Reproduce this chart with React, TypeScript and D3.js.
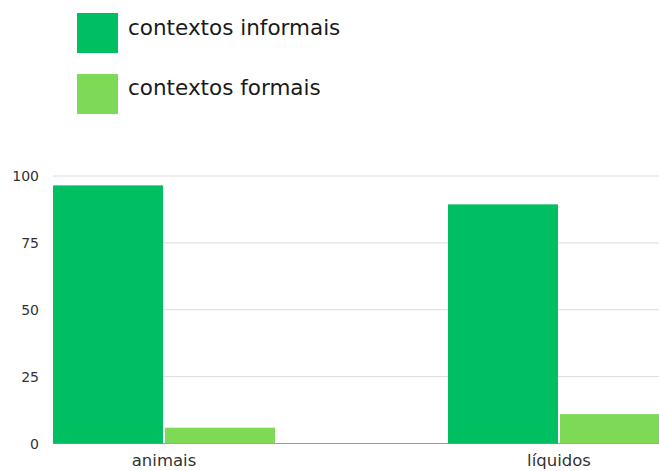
import React from "react";
import * as d3 from "d3";

const categories = ["animais", "líquidos"];
const seriesNames = ["contextos informais", "contextos formais"];
const informais = [96.5, 89.4];
const formais = [5.9, 11];
const yTicks = [0, 25, 50, 75, 100];
const colors = ["#00BF63", "#7ED957"];

const W = 659;
const H = 471;

export default function App() {
  const y = d3.scaleLinear().domain([0, 100]).range([443.5, 176]);
  const x = d3.scalePoint<string>().domain(categories).range([164, 559]);
  const inner = d3
    .scaleBand<string>()
    .domain(seriesNames)
    .range([-111, 111])
    .paddingInner(0.018);
  const values = [informais, formais];
  const font = "'DejaVu Sans', sans-serif";
  return (
    <svg
      width={W}
      height={H}
      style={{ position: "absolute", left: 0, top: 0, background: "#fff" }}
      fontFamily={font}
    >
      {seriesNames.map((s, i) => (
        <g key={s}>
          <rect x={77} y={13 + i * 61} width={41} height={40} fill={colors[i]} />
          <text x={128} y={34.5 + i * 60} fontSize={21.5} fill="#1a1a1a">
            {s}
          </text>
        </g>
      ))}
      {yTicks.map((t) => (
        <g key={t}>
          <line
            x1={53}
            x2={W}
            y1={y(t)}
            y2={y(t)}
            stroke={t === 0 ? "#9a9a9a" : "#dcdcdc"}
            strokeWidth={1}
          />
          <text
            x={39}
            y={y(t) + 5}
            textAnchor="end"
            fontSize={14}
            fill="#333"
          >
            {t}
          </text>
        </g>
      ))}
      {categories.map((c, ci) =>
        seriesNames.map((s, si) => {
          const v = values[si][ci];
          return (
            <rect
              key={c + s}
              x={(x(c) as number) + (inner(s) as number)}
              width={inner.bandwidth()}
              y={y(v)}
              height={y(0) - y(v)}
              fill={colors[si]}
            />
          );
        })
      )}
      {categories.map((c) => (
        <text
          key={c}
          x={x(c) as number}
          y={466}
          textAnchor="middle"
          fontSize={16.5}
          fill="#333"
        >
          {c}
        </text>
      ))}
    </svg>
  );
}
